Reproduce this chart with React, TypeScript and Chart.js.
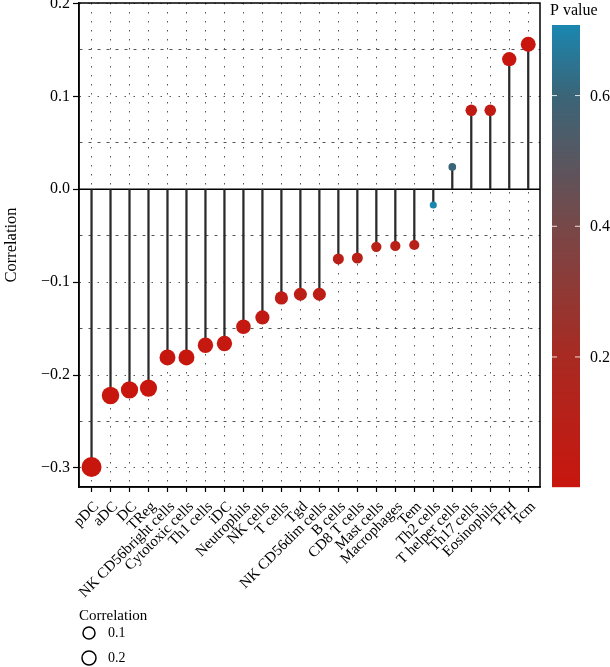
import React, { useEffect, useRef } from "react";
import { Chart, registerables } from "chart.js";

Chart.register(...registerables);

const categories = [
  "pDC", "aDC", "DC", "TReg", "NK CD56bright cells", "Cytotoxic cells", "Th1 cells", "iDC",
  "Neutrophils", "NK cells", "T cells", "Tgd", "NK CD56dim cells", "B cells", "CD8 T cells",
  "Mast cells", "Macrophages", "Tem", "Th2 cells", "T helper cells", "Th17 cells", "Eosinophils",
  "TFH", "Tcm",
];
const correlations = [
  -0.299, -0.222, -0.216, -0.214, -0.181, -0.181, -0.168, -0.166,
  -0.148, -0.138, -0.117, -0.113, -0.113, -0.075, -0.074,
  -0.062, -0.061, -0.060, -0.017, 0.024, 0.085, 0.085,
  0.140, 0.156,
];
const pValues = [
  0.001, 0.003, 0.004, 0.004, 0.012, 0.012, 0.018, 0.019,
  0.032, 0.045, 0.07, 0.075, 0.077, 0.09, 0.1,
  0.1, 0.1, 0.11, 0.708, 0.6, 0.05, 0.05,
  0.003, 0.001,
];
const yMajorTicks = [-0.3, -0.2, -0.1, 0, 0.1, 0.2];
const yMinorTicks = [-0.25, -0.15, -0.05, 0.05, 0.15];
const pTicks = [0.2, 0.4, 0.6];
const sizeLegendValues = [0.1, 0.2];

const FONT = '"Liberation Serif", "DejaVu Serif", serif';
// gradient stops (fraction of p range -> rgb), low p red to high p blue
const GRADIENT_STOPS: [number, number[]][] = [
  [0, [200, 22, 14]],
  [0.283, [168, 42, 34]],
  [0.565, [119, 72, 72]],
  [0.848, [58, 101, 120]],
  [1, [26, 135, 176]],
];

const pMin = Math.min(...pValues);
const pMax = Math.max(...pValues);
function pColor(p: number) {
  const t = Math.max(0, Math.min(1, (p - pMin) / (pMax - pMin)));
  for (let i = 1; i < GRADIENT_STOPS.length; i++) {
    const [t1, c1] = GRADIENT_STOPS[i];
    const [t0, c0] = GRADIENT_STOPS[i - 1];
    if (t <= t1) {
      const f = (t - t0) / (t1 - t0);
      const c = c0.map((v, k) => Math.round(v + (c1[k] - v) * f));
      return `rgb(${c[0]},${c[1]},${c[2]})`;
    }
  }
  const c = GRADIENT_STOPS[GRADIENT_STOPS.length - 1][1];
  return `rgb(${c[0]},${c[1]},${c[2]})`;
}
function sizeRadius(v: number) {
  return Math.sqrt(7.3 + 311 * Math.abs(v));
}
const isMajor = (v: number) => yMajorTicks.some((m) => Math.abs(m - v) < 1e-9);
const fmt = (v: number) => (v < 0 ? "\u2212" + Math.abs(v).toFixed(1) : v.toFixed(1));

const extrasPlugin = {
  id: "extras",
  beforeDatasetsDraw(chart: any) {
    const { ctx, chartArea, scales } = chart;
    const y0 = scales.y.getPixelForValue(0);
    ctx.save();
    ctx.strokeStyle = "#000";
    ctx.lineWidth = 1.5;
    ctx.beginPath();
    ctx.moveTo(chartArea.left, y0);
    ctx.lineTo(chartArea.right, y0);
    ctx.stroke();
    ctx.restore();
  },
  afterDraw(chart: any) {
    const { ctx, chartArea } = chart;
    ctx.save();
    // panel frame
    ctx.strokeStyle = "#000";
    ctx.lineWidth = 1.5;
    ctx.strokeRect(chartArea.left, chartArea.top, chartArea.right - chartArea.left, chartArea.bottom - chartArea.top);

    // colour bar
    const cbLeft = 552, cbRight = 580, cbTop = 25, cbBottom = chartArea.bottom;
    const h = cbBottom - cbTop;
    for (let i = 0; i < h; i++) {
      const p = pMax - ((i + 0.5) / h) * (pMax - pMin);
      ctx.fillStyle = pColor(p);
      ctx.fillRect(cbLeft, cbTop + i, cbRight - cbLeft, 1.2);
    }
    ctx.fillStyle = "#000";
    ctx.font = `16px ${FONT}`;
    ctx.textBaseline = "middle";
    ctx.textAlign = "left";
    ctx.fillText("P value", 550, 11);
    pTicks.forEach((p) => {
      const yy = cbBottom - ((p - pMin) / (pMax - pMin)) * h;
      ctx.strokeStyle = "rgba(255,255,255,0.85)";
      ctx.lineWidth = 1;
      ctx.beginPath();
      ctx.moveTo(cbLeft, yy);
      ctx.lineTo(cbLeft + 5, yy);
      ctx.moveTo(cbRight - 5, yy);
      ctx.lineTo(cbRight, yy);
      ctx.stroke();
      ctx.fillStyle = "#000";
      ctx.fillText(p.toFixed(1), 590, yy + 1);
    });

    // size legend
    ctx.font = `15px ${FONT}`;
    ctx.textAlign = "left";
    ctx.textBaseline = "alphabetic";
    ctx.fillText("Correlation", 79, 620);
    ctx.font = `14px ${FONT}`;
    ctx.textBaseline = "middle";
    const legendRadii = [6, 7];
    sizeLegendValues.forEach((v, i) => {
      const cy = 633 + i * 25;
      ctx.strokeStyle = "#000";
      ctx.lineWidth = 1.5;
      ctx.beginPath();
      ctx.arc(89, cy, legendRadii[i], 0, Math.PI * 2);
      ctx.stroke();
      ctx.fillStyle = "#000";
      ctx.fillText(v.toFixed(1), 108, cy);
    });
    ctx.restore();
  },
};

export default function App() {
  const ref = useRef<HTMLCanvasElement | null>(null);
  useEffect(() => {
    if (!ref.current) return;
    const chart = new Chart(ref.current, {
      type: "scatter",
      data: {
        datasets: [
          {
            type: "bar",
            data: categories.map((_, i) => ({ x: i, y: [0, correlations[i]] })) as any,
            backgroundColor: "#2a2a2a",
            borderWidth: 0,
            barThickness: 1.6,
            order: 2,
          } as any,
          {
            type: "scatter",
            data: categories.map((_, i) => ({ x: i, y: correlations[i] })),
            pointRadius: correlations.map(sizeRadius),
            pointHoverRadius: correlations.map(sizeRadius),
            pointBackgroundColor: pValues.map(pColor),
            pointBorderWidth: 0,
            clip: false,
            order: 1,
          } as any,
        ],
      },
      options: {
        animation: false,
        responsive: false,
        devicePixelRatio: 1,
        layout: { autoPadding: false, padding: { top: 3, right: 70, left: 0, bottom: 0 } },
        plugins: { legend: { display: false }, tooltip: { enabled: false } },
        scales: {
          x: {
            type: "linear",
            offset: false,
            min: -0.66,
            max: 23.62,
            afterBuildTicks: (s: any) => {
              s.ticks = categories.map((_, i) => ({ value: i }));
            },
            afterFit: (s: any) => {
              s.height = 180;
              s.paddingLeft = 0;
              s.paddingRight = 0;
            },
            ticks: {
              autoSkip: false,
              maxRotation: 45,
              minRotation: 45,
              padding: 6,
              labelOffset: 5,
              color: "#000",
              font: { family: FONT, size: 15 },
              callback: (_v: any, i: number) => categories[i],
            },
            grid: {
              offset: false,
              color: "#555",
              lineWidth: 1,
              tickColor: "#000",
              tickLength: 5,
              tickWidth: 1.2,
            },
            border: { display: true, color: "#000", width: 1.5, dash: [1.5, 7.5] },
          } as any,
          y: {
            type: "linear",
            min: -0.3205,
            max: 0.2005,
            afterBuildTicks: (s: any) => {
              s.ticks = [...yMajorTicks, ...yMinorTicks].sort((a, b) => a - b).map((v) => ({ value: v }));
            },
            afterFit: (s: any) => {
              s.width = 79;
              s.paddingTop = 0;
              s.paddingBottom = 0;
            },
            ticks: {
              padding: 3,
              color: "#000",
              font: { family: FONT, size: 16 },
              callback: (v: any) => (isMajor(v) ? fmt(v) : ""),
            },
            grid: {
              color: "#555",
              lineWidth: 1,
              tickColor: (c: any) => (c.tick && isMajor(c.tick.value) ? "#000" : "rgba(0,0,0,0)"),
              tickLength: 6,
              tickWidth: 1.2,
            },
            border: {
              display: true,
              color: "#000",
              width: 1.5,
              dash: (c: any) => (c.tick && isMajor(c.tick.value) ? [1.5, 7.5] : [3, 6]),
            },
            title: {
              display: true,
              text: "Correlation",
              color: "#000",
              font: { family: FONT, size: 16.5 },
              padding: { top: 2, bottom: 0 },
            },
          } as any,
        },
      },
      plugins: [extrasPlugin],
    });
    return () => chart.destroy();
  }, []);
  return (
    <div style={{ position: "fixed", left: 0, top: 0, width: 610, height: 667, background: "#fff" }}>
      <canvas ref={ref} width={610} height={667} style={{ width: 610, height: 667, display: "block" }} />
    </div>
  );
}
